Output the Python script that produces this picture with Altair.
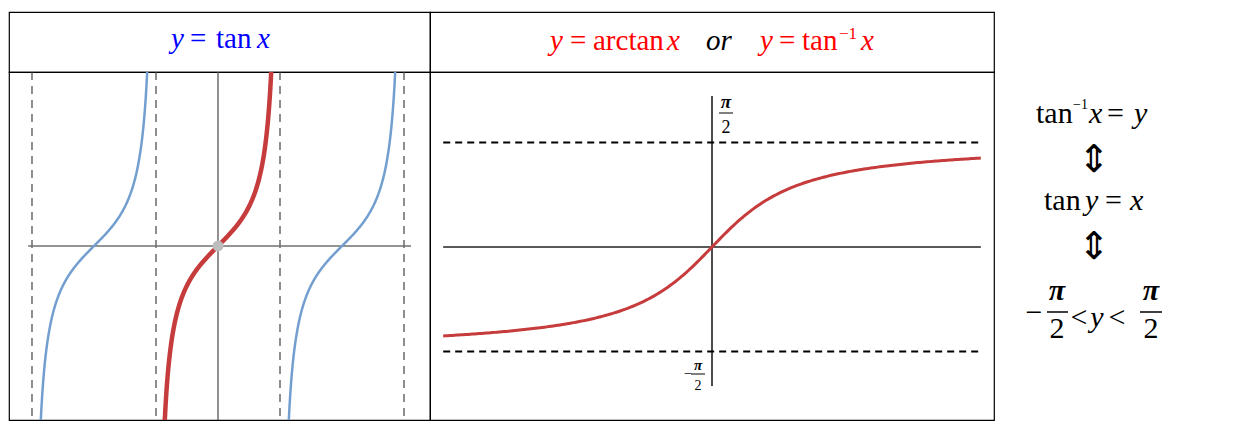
import numpy as np
import pandas as pd
import altair as alt

PI = np.pi

# ---------------- data ----------------
# left panel: y = tan x, three branches (centres), red = principal branch
branch_centres = [-PI, 0.0, PI]
branch_colors = ["blue", "red", "blue"]
branch_halfwidth = 1.349            # tan reaches the top/bottom of the view here
asymptotes_x = [-3 * PI / 2, -PI / 2, PI / 2, 3 * PI / 2]
left_xaxis_span = [-4.81, 4.89]

# right panel: y = arctan x
arctan_span = [-4.2, 4.2]
hlines_y = [-PI / 2, PI / 2]
right_yaxis_span = [-2.09, 2.27]

rows = []
for c, col in zip(branch_centres, branch_colors):
    xs = np.linspace(c - branch_halfwidth, c + branch_halfwidth, 240)
    for xv in xs:
        rows.append({"x": xv, "y": float(np.tan(xv - c)), "branch": str(c), "kind": col})
tan_df = pd.DataFrame(rows)
xs = np.linspace(arctan_span[0], arctan_span[1], 240)
atan_df = pd.DataFrame({"x": xs, "y": np.arctan(xs)})

dummy = alt.Data(values=[{"a": 1}])

RED = "#c63b3b"
BLUE = "#729fd0"

LW, RW, SW = 421, 564, 230
HH, PH = 60, 348

# panel origins on the page (used for text placement only)
O_HL = (8, 11)
O_PL = (8, 71)
O_HR = (8 + LW, 11)
O_PR = (8 + LW, 71)
O_S = (8 + LW + RW, 71)


def T(s, px, py, origin, size=30, italic=False, bold=False, color="black",
      align="left", baseline="alphabetic", font="Liberation Serif"):
    ox, oy = origin
    return alt.Chart(dummy).mark_text(
        text=s, fontSize=size, fontStyle="italic" if italic else "normal",
        fontWeight="bold" if bold else "normal", color=color, align=align,
        baseline=baseline, font=font,
    ).encode(x=alt.value(px - ox), y=alt.value(py - oy))


def BAR(x1, x2, py, origin, w=1.5):
    ox, oy = origin
    return alt.Chart(dummy).mark_rule(color="black", strokeWidth=w).encode(
        x=alt.value(x1 - ox), x2=alt.value(x2 - ox), y=alt.value(py - oy))


# ---------------- headers ----------------
HS = 29
hb = 47
headL = alt.layer(
    T("y", 170, hb, O_HL, size=HS, italic=True, color="#0000ff"),
    T("=", 189, hb, O_HL, size=HS, color="#0000ff"),
    T("tan", 215, hb, O_HL, size=HS, color="#0000ff"),
    T("x", 256, hb, O_HL, size=HS, italic=True, color="#0000ff"),
).properties(width=LW, height=HH)

hb2 = 49
headR = alt.layer(
    T("y", 549, hb2, O_HR, size=HS, italic=True, color="#ff0000"),
    T("=", 569, hb2, O_HR, size=HS, color="#ff0000"),
    T("arctan", 592, hb2, O_HR, size=HS, color="#ff0000"),
    T("x", 666, hb2, O_HR, size=HS, italic=True, color="#ff0000"),
    T("or", 705, hb2, O_HR, size=HS, italic=True, color="black"),
    T("y", 759, hb2, O_HR, size=HS, italic=True, color="#ff0000"),
    T("=", 778, hb2, O_HR, size=HS, color="#ff0000"),
    T("tan", 801, hb2, O_HR, size=HS, color="#ff0000"),
    T("\u22121", 838, hb2 - 11, O_HR, size=17, color="#ff0000"),
    T("x", 860, hb2, O_HR, size=HS, italic=True, color="#ff0000"),
).properties(width=RW, height=HH)

# ---------------- left plot ----------------
xsL = alt.Scale(domain=[-5.295, 5.371], nice=False, zero=False)
ysL = alt.Scale(domain=[-4.41, 4.41], nice=False, zero=False)

asym = alt.Chart(pd.DataFrame({"x": asymptotes_x})).mark_rule(
    color="#444", strokeWidth=1.2, strokeDash=[8, 6]).encode(
    x=alt.X("x:Q", scale=xsL, axis=None))
vax = alt.Chart(pd.DataFrame({"x": [0.0]})).mark_rule(color="#555", strokeWidth=1.3).encode(
    x=alt.X("x:Q", scale=xsL, axis=None))
hax = alt.Chart(pd.DataFrame({"x": [left_xaxis_span[0]], "x2": [left_xaxis_span[1]], "y": [0.0]})).mark_rule(
    color="#707070", strokeWidth=1.5).encode(
    x=alt.X("x:Q", scale=xsL, axis=None), x2="x2:Q", y=alt.Y("y:Q", scale=ysL, axis=None))
blue = alt.Chart(tan_df[tan_df.kind == "blue"]).mark_line(color=BLUE, strokeWidth=2.5, clip=True).encode(
    x=alt.X("x:Q", scale=xsL, axis=None), y=alt.Y("y:Q", scale=ysL, axis=None), detail="branch:N")
red = alt.Chart(tan_df[tan_df.kind == "red"]).mark_line(color=RED, strokeWidth=4.5, clip=True).encode(
    x=alt.X("x:Q", scale=xsL, axis=None), y=alt.Y("y:Q", scale=ysL, axis=None))
origin_pt = alt.Chart(pd.DataFrame({"x": [0.0], "y": [0.0]})).mark_circle(
    size=120, color="#bdbdbd", opacity=1).encode(
    x=alt.X("x:Q", scale=xsL, axis=None), y=alt.Y("y:Q", scale=ysL, axis=None))

plotL = alt.layer(asym, vax, hax, blue, red, origin_pt).properties(width=LW, height=PH)

# ---------------- right plot ----------------
xsR = alt.Scale(domain=[-4.406, 4.406], nice=False, zero=False)
ysR = alt.Scale(domain=[-2.602, 2.632], nice=False, zero=False)

rhax = alt.Chart(pd.DataFrame({"x": [arctan_span[0]], "x2": [arctan_span[1]], "y": [0.0]})).mark_rule(
    color="#222", strokeWidth=1.5).encode(
    x=alt.X("x:Q", scale=xsR, axis=None), x2="x2:Q", y=alt.Y("y:Q", scale=ysR, axis=None))
rvax = alt.Chart(pd.DataFrame({"x": [0.0], "y": [right_yaxis_span[0]], "y2": [right_yaxis_span[1]]})).mark_rule(
    color="#111", strokeWidth=1.5).encode(
    x=alt.X("x:Q", scale=xsR, axis=None), y=alt.Y("y:Q", scale=ysR, axis=None), y2="y2:Q")
rdash = alt.Chart(pd.DataFrame({"y": hlines_y, "x": [arctan_span[0]] * 2, "x2": [arctan_span[1]] * 2})).mark_rule(
    color="black", strokeWidth=2, strokeDash=[7, 5]).encode(
    x=alt.X("x:Q", scale=xsR, axis=None), x2="x2:Q", y=alt.Y("y:Q", scale=ysR, axis=None))
ratan = alt.Chart(atan_df).mark_line(color=RED, strokeWidth=3, clip=True).encode(
    x=alt.X("x:Q", scale=xsR, axis=None), y=alt.Y("y:Q", scale=ysR, axis=None))

plotR = alt.layer(
    rhax, rvax, rdash, ratan,
    T("\u03c0", 725, 107, O_PR, size=19, bold=True, italic=True, align="center"),
    BAR(718, 732, 112, O_PR, w=1),
    T("2", 725, 132, O_PR, size=18, align="center"),
    T("\u2212", 687, 377, O_PR, size=14, align="center"),
    T("\u03c0", 697, 369, O_PR, size=15, bold=True, italic=True, align="center"),
    BAR(690, 704, 373, O_PR, w=1),
    T("2", 697, 389, O_PR, size=14, align="center"),
).properties(width=RW, height=PH)

# ---------------- side equations ----------------
S = 30
sideTop = T("", 1000, 20, (8 + LW + RW, 11), size=1).properties(
    width=SW, height=HH, view=alt.ViewBackground(stroke="transparent"))
side = alt.layer(
    T("tan", 1035, 122, O_S, size=S),
    T("\u22121", 1072, 108, O_S, size=14),
    T("x", 1088, 122, O_S, size=S, italic=True),
    T("=", 1106, 122, O_S, size=S),
    T("y", 1133, 122, O_S, size=S, italic=True),
    T("\u21d5", 1093, 160, O_S, size=38, align="center", baseline="middle", font="DejaVu Sans"),
    T("tan", 1043, 209, O_S, size=S),
    T("y", 1084, 209, O_S, size=S, italic=True),
    T("=", 1104, 209, O_S, size=S),
    T("x", 1129, 209, O_S, size=S, italic=True),
    T("\u21d5", 1093, 247, O_S, size=38, align="center", baseline="middle", font="DejaVu Sans"),
    T("\u2212", 1033, 321, O_S, size=S, align="center"),
    T("\u03c0", 1056, 299, O_S, size=S, bold=True, italic=True, align="center"),
    BAR(1046, 1067, 311, O_S, w=1.5),
    T("2", 1056, 337, O_S, size=S, align="center"),
    T("<", 1078, 326, O_S, size=S, align="center"),
    T("y", 1096, 326, O_S, size=S, italic=True, align="center"),
    T("<", 1116, 326, O_S, size=S, align="center"),
    T("\u03c0", 1150, 299, O_S, size=S, bold=True, italic=True, align="center"),
    BAR(1139, 1161, 311, O_S, w=1.5),
    T("2", 1150, 337, O_S, size=S, align="center"),
).properties(width=SW, height=PH, view=alt.ViewBackground(stroke="transparent"))

chart = alt.concat(
    headL, headR, sideTop, plotL, plotR, side,
    columns=3, spacing=0, bounds="flush", align="each",
).properties(
    padding={"left": 0, "top": 3, "right": 0, "bottom": 0},
    background="white",
).configure_view(stroke="black", strokeWidth=1.2)

chart.save("out.html", embed_options={"renderer": "svg", "actions": False})
